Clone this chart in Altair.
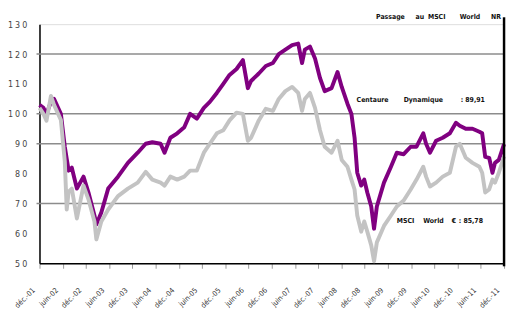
import altair as alt
import pandas as pd

# ---- data ----
dates = [
    "2001-12-01", "2002-01-01", "2002-01-25", "2002-03-01", "2002-03-25", "2002-05-18",
    "2002-06-18", "2002-07-03", "2002-07-18", "2002-08-12", "2002-09-21", "2002-11-12",
    "2002-12-21", "2003-02-06", "2003-02-21", "2003-04-01", "2003-05-25", "2003-08-10",
    "2003-10-27", "2004-01-12", "2004-03-15", "2004-05-06", "2004-07-10", "2004-08-10",
    "2004-09-25", "2004-11-18", "2005-01-12", "2005-02-27", "2005-04-21", "2005-06-15",
    "2005-08-01", "2005-09-25", "2005-11-15", "2006-01-03", "2006-02-27", "2006-04-18",
    "2006-05-27", "2006-06-21", "2006-08-21", "2006-10-15", "2006-12-10", "2007-01-25",
    "2007-03-18", "2007-05-10", "2007-06-27", "2007-07-27", "2007-08-18", "2007-09-27",
    "2007-11-06", "2007-12-15", "2008-01-21", "2008-03-15", "2008-05-01", "2008-06-03",
    "2008-07-18", "2008-08-18", "2008-09-12", "2008-10-03", "2008-11-03", "2008-11-27",
    "2008-12-21", "2009-01-21", "2009-02-12", "2009-03-06", "2009-05-01", "2009-06-25",
    "2009-08-10", "2009-10-03", "2009-11-27", "2010-01-12", "2010-03-06", "2010-03-28",
    "2010-04-28", "2010-06-15", "2010-08-06", "2010-10-01", "2010-11-18", "2010-12-18",
    "2011-02-03", "2011-03-28", "2011-05-21", "2011-06-12", "2011-07-06", "2011-08-06",
    "2011-09-01", "2011-09-21", "2011-10-21", "2011-12-01",
]
centaure = [
    103, 102, 100, 104, 105, 100, 89, 85, 81, 82, 75, 79,
    73.7, 66, 63, 67, 75, 79, 83.6, 87, 90, 90.5, 90, 87,
    92, 93.5, 95.5, 100, 98.4, 102, 104, 107, 110, 113, 115, 118,
    108.6, 111, 113.5, 116, 117, 120, 121.5, 123, 123.5, 117, 121.5, 122.5,
    118.5, 112, 107.6, 108.6, 114, 109, 103.4, 100, 92, 80.3, 76, 78,
    73.7, 69, 61.6, 69, 77, 82.3, 87, 86.5, 89, 89, 93.5, 90,
    87, 91, 92, 93.5, 97, 96, 95, 95, 94, 93.5, 85.6, 85.3,
    80.3, 83.6, 84.6, 89.91,
]
msci = [
    102, 100, 97.7, 106, 103, 98, 84, 68, 74, 75, 65, 76,
    71.4, 64, 58, 64, 68, 72.5, 75, 77, 80.6, 78, 77, 76,
    79, 78, 79, 81, 81, 87, 90, 93.5, 94.5, 97.8, 100.4, 100,
    91, 92, 97.8, 101.7, 101, 105, 107.6, 109, 107, 101, 105, 107,
    102, 94.5, 89, 87, 91, 84.6, 82.3, 78, 74.7, 66, 60.6, 64,
    60.6, 56, 50.7, 57, 62.5, 66, 69, 71, 74.7, 78, 82.3, 79,
    75.7, 77, 79, 80.3, 89, 90, 85.3, 83.6, 82.3, 80.3, 73.7, 74.7,
    78, 77, 80.3, 85.78,
]

y_ticks = [50, 60, 70, 80, 90, 100, 110, 120, 130]
grid_values = [120, 100, 90, 70]
x_tick_dates = ["2001-12-01"] + [f"{y}-{m:02d}-01" for y in range(2002, 2012) for m in (6, 12)]
switch_date = "2011-12-01"

ann_text = ["Passage", "au", "MSCI", "World", "NR",
            "Centaure", "Dynamique", ": 89,91",
            "MSCI", "World", "€", ": 85,78"]
ann_date = ["2009-02-28", "2010-01-04", "2010-04-12", "2010-12-18", "2011-08-21",
            "2008-09-28", "2009-10-03", "2010-12-25",
            "2009-08-10", "2010-03-06", "2010-10-15", "2010-12-10"]
ann_value = [132.3, 132.3, 132.3, 132.3, 132.3,
             104.6, 104.6, 104.6,
             64.2, 64.2, 64.2, 64.2]

# ---- tables ----
df = pd.DataFrame({"date": dates, "Centaure Dynamique": centaure, "MSCI World €": msci})
grid_df = pd.DataFrame({"v": grid_values})
ann_df = pd.DataFrame({"text": ann_text, "date": ann_date, "value": ann_value})
switch_df = pd.DataFrame({"date": [switch_date], "top": [132.3], "bottom": [49.0]})

FONT = "Liberation Sans Narrow, DejaVu Sans Condensed, Liberation Sans, sans-serif"

x_scale = alt.Scale(type="utc", domain=[alt.DateTime(year=2001, month=12, date=1, utc=True),
                                        alt.DateTime(year=2011, month=12, date=1, utc=True)])
y_scale = alt.Scale(domain=[50, 130], nice=False, zero=False)

tick_vals = [alt.DateTime(year=int(d[:4]), month=int(d[5:7]), date=1, utc=True) for d in x_tick_dates]

x_axis = alt.Axis(
    values=tick_vals,
    labelExpr="(utcmonth(datum.value) == 11 ? 'déc.-' : 'juin-') + utcFormat(datum.value, '%y')",
    labelAngle=-45, labelAlign="right", labelBaseline="middle", labelOverlap=False,
    labelPadding=21, labelOffset=-6, labelFont=FONT, labelFontSize=7.5, labelColor="#333333",
    labelBound=False, labelFlush=False, tickSize=5, tickColor="#9a9a9a",
    domainColor="black", domainWidth=1.5, grid=False, title=None,
)
y_axis = alt.Axis(
    values=y_ticks,
    labelExpr="join(split(format(datum.value, 'd'), ''), '\u2005')",
    labelFont=FONT, labelFontSize=9, labelColor="#444444", labelPadding=13,
    labelOverlap=False, labelBound=False, labelFlush=False,
    ticks=False, domainColor="black", domainWidth=1.5, grid=False, title=None,
)

grid = alt.Chart(grid_df).mark_rule(color="#8c8c8c", strokeWidth=1.5).encode(
    y=alt.Y("v:Q", scale=y_scale, axis=y_axis),
    x=alt.value(-3), x2=alt.value(472),
)

purple = alt.Chart(df).mark_line(color="#800080", strokeWidth=4, strokeJoin="round").encode(
    x=alt.X("date:T", scale=x_scale, axis=x_axis),
    y=alt.Y("Centaure Dynamique:Q", scale=y_scale, axis=y_axis),
)
grey = alt.Chart(df).mark_line(color="#c3c3c3", strokeWidth=4, strokeJoin="round").encode(
    x=alt.X("date:T", scale=x_scale, axis=x_axis),
    y=alt.Y("MSCI World €:Q", scale=y_scale, axis=y_axis),
)

switch = alt.Chart(switch_df).mark_rule(color="black", strokeWidth=2.5, clip=False).encode(
    x=alt.X("date:T", scale=x_scale, axis=x_axis),
    y=alt.Y("top:Q", scale=y_scale, axis=y_axis),
    y2="bottom:Q",
)

ann = alt.Chart(ann_df).mark_text(font=FONT, fontSize=7, fontWeight="bold", color="#111111",
                                  align="left", clip=False).encode(
    x=alt.X("date:T", scale=x_scale, axis=x_axis),
    y=alt.Y("value:Q", scale=y_scale, axis=y_axis),
    text="text:N",
)

chart = alt.layer(grid, purple, grey, switch, ann).properties(
    width=472, height=243,
    autosize=alt.AutoSizeParams(type="none"),
    padding={"left": 32, "top": 14, "right": 3, "bottom": 45},
).configure_view(stroke=None).configure_axis(labelOverlap=False).configure(background="white")

chart.save("out.html", embed_options={"renderer": "svg", "actions": False})
